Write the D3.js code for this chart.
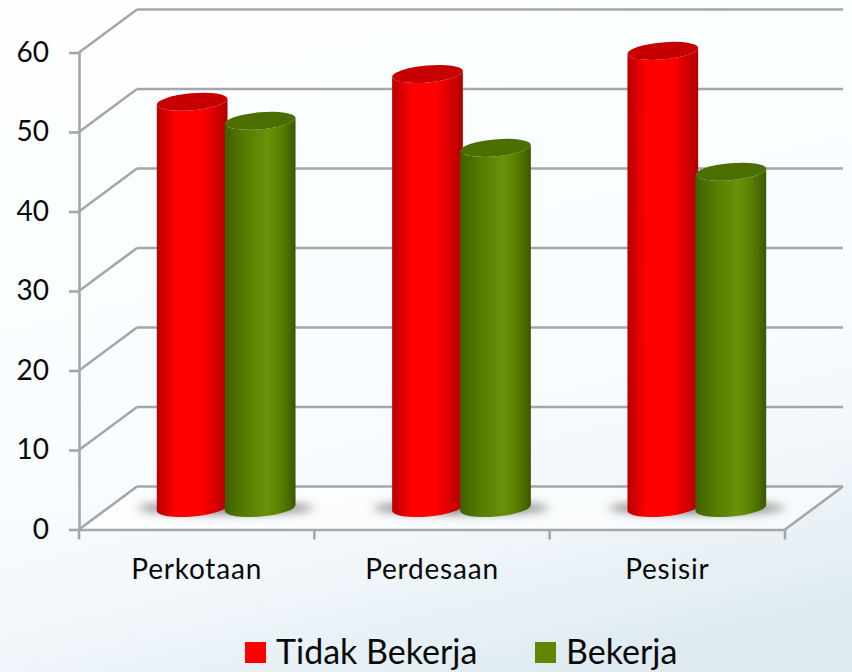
<!DOCTYPE html>
<html>
<head>
<meta charset="utf-8">
<script src="https://cdn.jsdelivr.net/npm/d3@7"></script>
<style>
  html, body { margin: 0; padding: 0; }
  text { font-family: Lato, "Open Sans", sans-serif; fill: #0a0a0a; }
</style>
</head>
<body>
<div id="container"></div>
<script>
let categories = ["Perkotaan", "Perdesaan", "Pesisir"];
let seriesNames = ["Tidak Bekerja", "Bekerja"];
let tidakBekerja = [51.1, 54.6, 57.5];
let bekerja = [48.7, 45.3, 42.3];
let yTicks = [0, 10, 20, 30, 40, 50, 60];

let w = 852;
let h = 672;
// front plane of the fake 3d box
let plotLeft = 79, plotRight = 785, plotBottom = 529.5, plotTop = 52.5;
let depthX = 58, depthY = -43;

let viz = d3.select("#container").append("svg")
    .attr("width", w)
    .attr("height", h)
    .style("display", "block");

let defs = viz.append("defs");

let bg = defs.append("linearGradient").attr("id", "bg")
    .attr("x1", 0.35).attr("y1", 0).attr("x2", 0.65).attr("y2", 1);
bg.append("stop").attr("offset", "0%").attr("stop-color", "#fdffff");
bg.append("stop").attr("offset", "55%").attr("stop-color", "#f9fdff");
bg.append("stop").attr("offset", "80%").attr("stop-color", "#f0f6fa");
bg.append("stop").attr("offset", "100%").attr("stop-color", "#dfebf1");

function cylinderGradient(id, stops) {
    let g = defs.append("linearGradient").attr("id", id);
    stops.forEach(function(s) {
        g.append("stop").attr("offset", s[0]).attr("stop-color", s[1]);
    });
}
cylinderGradient("redBar", [["0%", "#b80000"], ["28%", "#ff0000"], ["64%", "#ff0000"], ["100%", "#b00000"]]);
cylinderGradient("greenBar", [["0%", "#3f6000"], ["30%", "#577d02"], ["60%", "#6a9208"], ["78%", "#5a8000"], ["100%", "#3c5800"]]);

defs.append("filter").attr("id", "blur")
    .attr("x", "-30%").attr("y", "-100%").attr("width", "160%").attr("height", "300%")
    .append("feGaussianBlur").attr("stdDeviation", 5);
defs.append("filter").attr("id", "soft")
    .attr("filterUnits", "userSpaceOnUse").attr("x", 0).attr("y", 0).attr("width", w).attr("height", h)
    .append("feGaussianBlur").attr("stdDeviation", 0.7);

viz.append("rect").attr("width", w).attr("height", h).attr("fill", "url(#bg)");

let xScale = d3.scaleBand().domain(categories).range([plotLeft, plotRight]);
let yScale = d3.scaleLinear().domain([0, 60]).range([plotBottom, plotTop]);

// bars stand in the middle of the floor depth
let xInner = d3.scaleBand().domain(seriesNames).range([-67.5, 68.5]);
let midX = depthX / 2, midY = depthY / 2;
let barRx = 35.5, barRy = 8.5, tilt = -5;
let seriesColors = ["url(#redBar)", "url(#greenBar)"];
let capColors = ["#c60000", "#4a6f00"];
let legendColors = ["#ff0000", "#5f8700"];

// floor
viz.append("path")
    .attr("d", "M" + plotLeft + "," + plotBottom + "L" + plotRight + "," + plotBottom
        + "L" + (plotRight + depthX) + "," + (plotBottom + depthY)
        + "L" + (plotLeft + depthX) + "," + (plotBottom + depthY) + "Z")
    .attr("fill", "#ffffff").attr("fill-opacity", 0.6);

let grid = viz.append("g").attr("fill", "none").attr("stroke", "#a6a6a6")
    .attr("stroke-width", 2.6).attr("filter", "url(#soft)");

grid.selectAll(".wall").data(yTicks).enter().append("line").classed("wall", true)
    .attr("x1", plotLeft + depthX).attr("x2", plotRight + depthX)
    .attr("y1", d => yScale(d) + depthY).attr("y2", d => yScale(d) + depthY);
grid.selectAll(".side").data(yTicks).enter().append("line").classed("side", true)
    .attr("x1", plotLeft).attr("x2", plotLeft + depthX)
    .attr("y1", d => yScale(d)).attr("y2", d => yScale(d) + depthY);
grid.append("line")
    .attr("x1", plotRight).attr("y1", plotBottom)
    .attr("x2", plotRight + depthX).attr("y2", plotBottom + depthY);

// flatten to one table for the bars
let barData = [];
categories.forEach(function(c, i) {
    barData.push({cat: c, name: seriesNames[0], value: tidakBekerja[i], s: 0});
    barData.push({cat: c, name: seriesNames[1], value: bekerja[i], s: 1});
});

function centerX(d) {
    return xScale(d.cat) + xScale.bandwidth() / 2 + midX + xInner(d.name) + xInner.bandwidth() / 2;
}

let rad = tilt * Math.PI / 180;
let dx = barRx * Math.cos(rad), dy = barRx * Math.sin(rad);

function bodyPath(d) {
    let cx = centerX(d);
    let yTop = yScale(d.value) + midY;
    let yBot = yScale(0) + midY;
    return "M" + (cx - dx) + "," + (yTop - dy)
        + "L" + (cx - dx) + "," + (yBot - dy)
        + "A" + barRx + "," + barRy + "," + tilt + ",0,0," + (cx + dx) + "," + (yBot + dy)
        + "L" + (cx + dx) + "," + (yTop + dy)
        + "A" + barRx + "," + barRy + "," + tilt + ",0,1," + (cx - dx) + "," + (yTop - dy) + "Z";
}

// shadows on the floor
viz.append("g").selectAll("ellipse").data(categories).enter().append("ellipse")
    .attr("cx", d => xScale(d) + xScale.bandwidth() / 2 + midX)
    .attr("cy", yScale(0) + midY)
    .attr("rx", 88).attr("ry", 6)
    .attr("fill", "#555").attr("fill-opacity", 0.75)
    .attr("filter", "url(#blur)");

let barGroups = viz.selectAll(".datapoint").data(barData).enter()
    .append("g").classed("datapoint", true);

barGroups.append("path")
    .attr("d", bodyPath)
    .attr("fill", d => seriesColors[d.s]);

barGroups.append("ellipse")
    .attr("rx", barRx).attr("ry", barRy)
    .attr("fill", d => capColors[d.s])
    .attr("transform", d => "translate(" + centerX(d) + "," + (yScale(d.value) + midY) + ") rotate(" + tilt + ")");

// axes
let yAxis = d3.axisLeft(yScale).tickValues(yTicks).tickSize(10).tickPadding(20).tickSizeOuter(0);
let yAxisGroup = viz.append("g").classed("yAxis", true)
    .attr("transform", "translate(" + plotLeft + ",0)").call(yAxis);
yAxisGroup.selectAll("text").attr("font-size", 28).style("font-family", "Lato");

let xAxis = d3.axisBottom(xScale).tickSize(0).tickPadding(30).tickSizeOuter(0);
let xAxisGroup = viz.append("g").classed("xAxis", true)
    .attr("transform", "translate(0," + plotBottom + ")").call(xAxis);
xAxisGroup.selectAll("text").attr("font-size", 28).attr("letter-spacing", 0.8).style("font-family", "Lato");

// category separators, xScale.step apart
let xEdges = d3.range(categories.length + 1).map(i => plotLeft + i * xScale.step());
xAxisGroup.selectAll(".edge").data(xEdges).enter().append("line").classed("edge", true)
    .attr("x1", d => d).attr("x2", d => d).attr("y1", 0).attr("y2", 10)
    .attr("stroke", "#a3a3a3");

viz.selectAll(".yAxis path, .xAxis path, .yAxis line, .xAxis line")
    .attr("stroke", "#a6a6a6").attr("stroke-width", 2.6);

// legend
let legendX = [245, 535];
let legend = viz.selectAll(".legendItem").data(seriesNames).enter()
    .append("g").classed("legendItem", true)
    .attr("transform", (d, i) => "translate(" + legendX[i] + ",642)");
legend.append("rect").attr("width", 21).attr("height", 21)
    .attr("fill", (d, i) => legendColors[i]);
legend.append("text").attr("x", 31).attr("y", 22)
    .attr("font-size", 34).text(d => d);
</script>
</body>
</html>
